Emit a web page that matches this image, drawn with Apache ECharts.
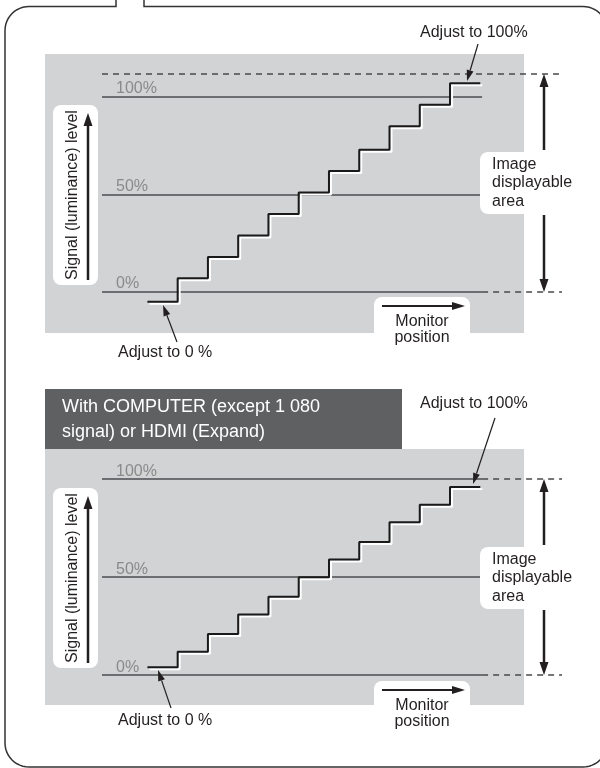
<!DOCTYPE html>
<html>
<head>
<meta charset="utf-8">
<script src="https://cdn.jsdelivr.net/npm/echarts@6/dist/echarts.min.js"></script>
<style>
html, body { margin: 0; padding: 0; background: #fff; }
#chart { width: 600px; height: 768px; }
</style>
</head>
<body>
<div id="chart"></div>
<script>
// step positions (riser index) and the level of each step, in % of signal
var steps = [0, 1, 2, 3, 4, 5, 6, 7, 8, 9, 10, 11];
var videoLevels = [-5, 7, 18, 29, 40, 51, 62, 73, 85, 96, 107];
var computerLevels = [4, 12, 21, 31, 40, 50, 59, 68, 78, 87, 96];
var refLevels = [0, 50, 100];
var refLabels = ['0%', '50%', '100%'];
var videoTop = 112;          // dashed upper limit, top panel
var solidEnd = 11.06;        // where the solid reference lines stop
var titleLines = ['With COMPUTER (except 1 080', 'signal) or HDMI (Expand)'];

var FONT = '"Liberation Sans", Arial, sans-serif';
var INK = '#231f20';

function stepData(levels) {
    return steps.map(function (x, i) {
        return [x, levels[Math.min(i, levels.length - 1)]];
    });
}

function refLines(dashedAt) {
    var data = [];
    refLevels.forEach(function (v, i) {
        data.push([
            {coord: [-1.5, v], label: {show: true, formatter: refLabels[i]}},
            {coord: [solidEnd, v]}
        ]);
    });
    dashedAt.forEach(function (d) {
        data.push([
            {coord: [d[1], d[0]], lineStyle: {type: [6, 5], width: 1.5, color: '#4a4a4a'}, label: {show: false}},
            {coord: [13.7, d[0]]}
        ]);
    });
    return {
        silent: true,
        symbol: 'none',
        animation: false,
        lineStyle: {type: 'solid', color: '#6d6e71', width: 2},
        label: {
            position: 'insideStartTop',
            distance: [14, 0],
            color: '#8a8a8a',
            fontSize: 16,
            fontFamily: FONT
        },
        data: data
    };
}

function stepSeries(idx, levels, dashedAt) {
    return {
        type: 'line',
        xAxisIndex: idx,
        yAxisIndex: idx,
        step: 'end',
        symbol: 'none',
        data: stepData(levels),
        z: 5,
        lineStyle: {
            color: '#1a1a1a', width: 2,
            shadowColor: '#ffffff', shadowBlur: 0, shadowOffsetX: 2, shadowOffsetY: 2
        },
        markLine: refLines(dashedAt)
    };
}

function arrow(x1, y1, x2, y2, lw, L, W) {
    var a = Math.atan2(y2 - y1, x2 - x1);
    var bx = x2 - L * Math.cos(a), by = y2 - L * Math.sin(a);
    var px = -Math.sin(a) * W, py = Math.cos(a) * W;
    return [
        {type: 'line', z: 20, shape: {x1: x1, y1: y1, x2: bx, y2: by}, style: {stroke: INK, lineWidth: lw}},
        {type: 'polygon', z: 20, shape: {points: [[x2, y2], [bx + px, by + py], [bx - px, by - py]]}, style: {fill: INK}}
    ];
}

function txt(s, x, y, size, color, align) {
    return {type: 'text', z: 21, style: {
        text: s, x: x, y: y, font: size + 'px ' + FONT, fill: color || INK,
        textAlign: align || 'left', textVerticalAlign: 'middle'
    }};
}

// quarter circle points for the frame corners
function corner(cx, cy, r, a0, a1) {
    var pts = [];
    for (var k = 0; k <= 12; k++) {
        var a = a0 + (a1 - a0) * k / 12;
        pts.push([cx + r * Math.cos(a), cy + r * Math.sin(a)]);
    }
    return pts;
}

function panelDecor(o) {
    var g = [];
    // grey plot background
    g.push({type: 'rect', z: 0, shape: {x: 45, y: o.bgTop, width: 479, height: o.bgBottom - o.bgTop}, style: {fill: '#d1d3d4'}});
    // y label box
    g.push({type: 'rect', z: 10, shape: {x: 53, y: o.yBox, width: 45, height: 180, r: 8}, style: {fill: '#fff'}});
    g.push({type: 'text', z: 21, x: 73, y: o.yBox + 90, rotation: Math.PI / 2, style: {
        text: 'Signal (luminance) level', x: 0, y: 0, font: '16px ' + FONT, fill: INK,
        textAlign: 'center', textVerticalAlign: 'middle'}});
    g = g.concat(arrow(88, o.yBox + 175, 88, o.yBox + 8, 2.5, 13, 4.5));
    // image displayable area
    g.push({type: 'rect', z: 10, shape: {x: 480, y: o.boxTop, width: 82, height: 62, r: 8}, style: {fill: '#fff'}});
    g.push(txt('Image', 492, o.boxTop + 13, 16));
    g.push(txt('displayable', 492, o.boxTop + 31, 16));
    g.push(txt('area', 492, o.boxTop + 50, 16));
    g = g.concat(arrow(544, o.boxTop - 2, 544, o.hi, 2.5, 13, 4.5));
    g = g.concat(arrow(544, o.boxTop + 63, 544, o.lo, 2.5, 13, 4.5));
    // monitor position
    g.push({type: 'rect', z: 10, shape: {x: 374, y: o.monTop, width: 96, height: 50, r: [8, 8, 0, 0]}, style: {fill: '#fff'}});
    g = g.concat(arrow(382, o.monTop + 9, 465, o.monTop + 9, 2, 13, 4));
    g.push(txt('Monitor', 422, o.monTop + 25, 16, INK, 'center'));
    g.push(txt('position', 422, o.monTop + 41, 16, INK, 'center'));
    // adjust annotations
    g.push(txt('Adjust to 0 %', 118, o.adj0Y, 16));
    g = g.concat(arrow(o.adj0Line[0], o.adj0Line[1], o.adj0Line[2], o.adj0Line[3], 1.2, 11, 3.5));
    g.push(txt('Adjust to 100%', 420, o.adj100Y, 16));
    g = g.concat(arrow(o.adj100Line[0], o.adj100Line[1], o.adj100Line[2], o.adj100Line[3], 1.2, 11, 3.5));
    return g;
}

var graphics = [];
// outer rounded frame with the tab notch on top
var framePts = [[116, 0], [116, 6.5]]
    .concat(corner(29, 30.5, 24, -Math.PI / 2, -Math.PI))
    .concat(corner(29, 743, 24, Math.PI, Math.PI / 2))
    .concat(corner(583, 743, 24, Math.PI / 2, 0))
    .concat(corner(583, 30.5, 24, 0, -Math.PI / 2))
    .concat([[144, 6.5], [144, 0]]);
graphics.push({type: 'polyline', z: 1, shape: {points: framePts},
    style: {fill: null, stroke: '#333', lineWidth: 1.5}});
graphics = graphics.concat(panelDecor({
    bgTop: 54, bgBottom: 333, yBox: 105, boxTop: 152, hi: 74, lo: 292, monTop: 297,
    adj0Y: 353, adj0Line: [177, 342, 163, 305],
    adj100Y: 33, adj100Line: [478, 44, 467, 81]
}));
graphics = graphics.concat(panelDecor({
    bgTop: 449, bgBottom: 705, yBox: 488, boxTop: 547, hi: 479, lo: 675, monTop: 681,
    adj0Y: 721, adj0Line: [171, 708, 158, 670],
    adj100Y: 404, adj100Line: [495, 418, 473, 484]
}));
// title bar of the lower panel
graphics.push({type: 'rect', z: 0, shape: {x: 45, y: 389, width: 357, height: 60}, style: {fill: '#5f6062'}});
graphics.push(txt(titleLines[0], 62, 407, 18, '#fff'));
graphics.push(txt(titleLines[1], 62, 432, 18, '#fff'));

var mychart = echarts.init(document.getElementById('chart'));
var option = {
    animation: false,
    grid: [
        {left: 102, right: 38, top: 58, height: 273},
        {left: 102, right: 38, top: 440, height: 274.4}
    ],
    xAxis: [
        {gridIndex: 0, type: 'value', min: -1.5, max: 13.7, show: false},
        {gridIndex: 1, type: 'value', min: -1.5, max: 13.7, show: false}
    ],
    yAxis: [
        {gridIndex: 0, type: 'value', min: -20, max: 120, show: false},
        {gridIndex: 1, type: 'value', min: -20, max: 120, show: false}
    ],
    series: [
        stepSeries(0, videoLevels, [[videoTop, -1.5], [0, solidEnd]]),
        stepSeries(1, computerLevels, [[100, solidEnd], [0, solidEnd]])
    ],
    graphic: graphics
};
mychart.setOption(option);
</script>
</body>
</html>
